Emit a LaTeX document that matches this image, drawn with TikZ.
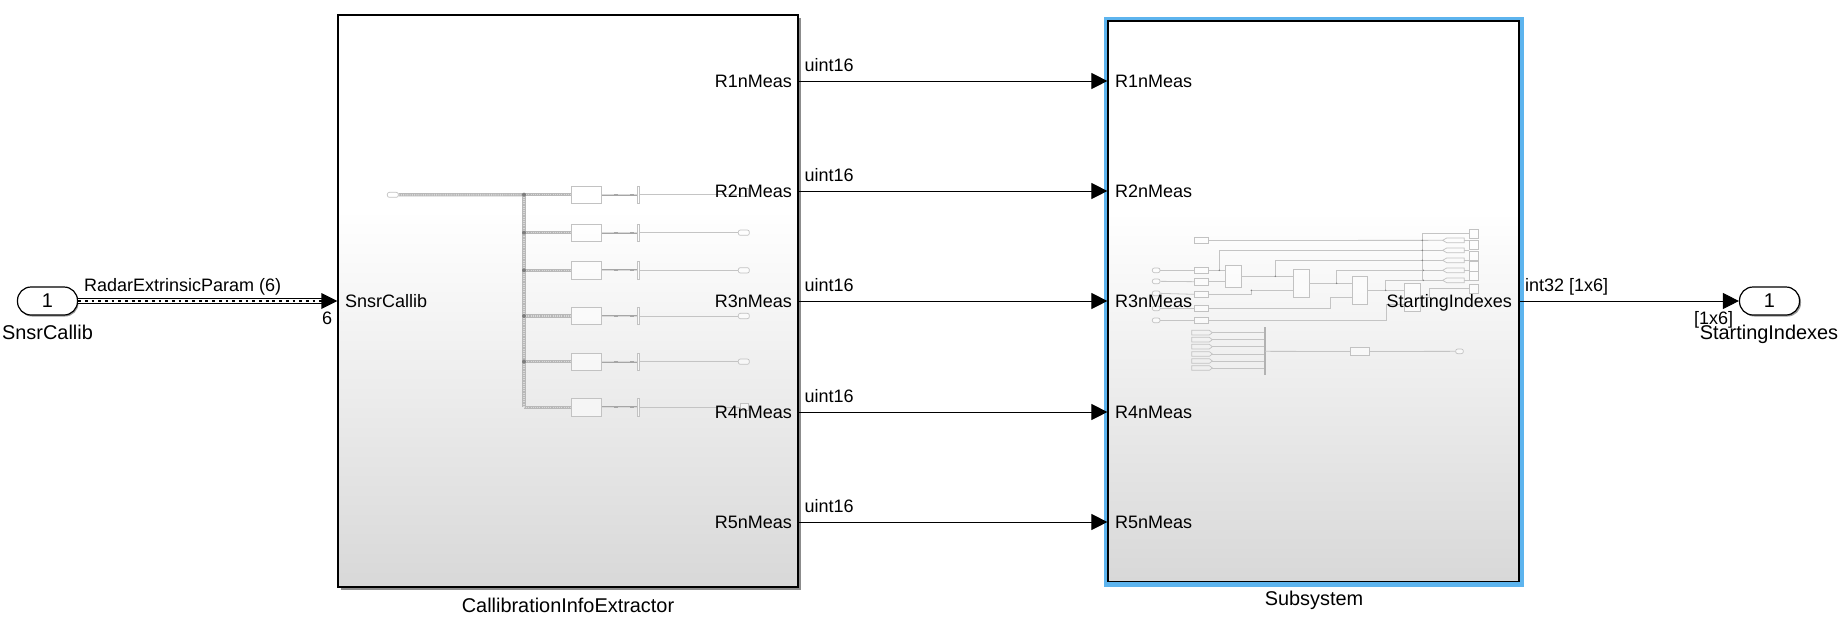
\documentclass[tikz,border=0pt]{standalone}
\usepackage{fontspec}
\setmainfont{Liberation Sans}
\usetikzlibrary{arrows.meta,fit,shapes.geometric}
\definecolor{blkbot}{HTML}{D8D8D8}
\definecolor{selblue}{HTML}{5DB4EE}
\definecolor{tline}{HTML}{C4C4C4}
\definecolor{tbox}{HTML}{C2C2C2}
\definecolor{tdark}{HTML}{7E7E7E}
\pgfdeclareverticalshading{blkshade}{100bp}{color(0bp)=(blkbot);color(25bp)=(blkbot);color(58bp)=(white);color(100bp)=(white)}
\newcommand{\tb}[6][]{\node[tbx,#1,fit={(#3,#4) (#5,#6)}] (#2) {};}
\tikzset{
  lab/.style={font=\fontsize{18}{20}\selectfont,inner sep=0pt,anchor=base west},
  labr/.style={lab,anchor=base east},
  labc/.style={font=\fontsize{19.9}{22}\selectfont,inner sep=0pt,anchor=base},
  sig/.style={line width=1pt,draw=black,-{Triangle[length=16pt,width=16pt]}},
  blockbox/.style={draw=black,line width=1.2pt,shading=blkshade,inner sep=0pt},
  shadowbox/.style={fill=black!45,draw=none,inner sep=0pt},
  portbox/.style={draw=black,line width=1.2pt,fill=white,rounded corners=13.5pt,inner sep=0pt,minimum width=60pt,minimum height=28pt,font=\fontsize{19.9}{22}\selectfont},
  tbx/.style={draw=tbox,fill=white,fill opacity=.55,line width=.7pt,inner sep=0pt},
  tl/.style={draw=tline,line width=.8pt},
  tport/.style={tbx,rounded corners=2pt},
  tdot/.style={circle,fill=tdark,inner sep=0pt,minimum size=4pt},
  tdots/.style={circle,fill=tdark,inner sep=0pt,minimum size=1.6pt},
  tbusa/.style={draw=black!28,line width=3.2pt},
  tbusb/.style={draw=white!85!black,line width=1.6pt,dash pattern=on 1pt off 1.2pt},
}
\begin{document}
\begin{tikzpicture}[x=1pt,y=-1pt]
\useasboundingbox (0,0) rectangle (1845,622);
% block shadows
\node[shadowbox,minimum width=460pt,minimum height=572pt] (shad) at (570.5,303.5) {};
% blocks
\node[blockbox,minimum width=460pt,minimum height=572pt] (cie) at (568,301) {};
\node[draw=selblue,fill=selblue,inner sep=0pt,minimum width=418.6pt,minimum height=569pt] (sel) at (1313.5,302) {};
\node[blockbox,minimum width=411pt,minimum height=560.5pt] (sub) at (1313.5,301.3) {};
% thumbnail of CallibrationInfoExtractor
\begin{scope}[shift={(370,170)},x=.33333pt,y=-.33333pt]
  \tb[tport]{ti}{52}{67}{85}{82}
  \coordinate (tj0) at (462,74);
  \coordinate (tj5) at (462,712);
  \foreach \n/\y in {0/74,1/188,2/301,3/438,4/575,5/712}{
    \tb{tg\n}{603}{\y-26}{695}{\y+26}
    \tb{tbar\n}{802}{\y-26}{808}{\y+26}
    \draw[draw=black!35,line width=2pt] (tg\n.east) -- (tbar\n.west);
    \draw[draw=black!15,line width=.7pt,dash pattern=on 12pt off 4pt] (tg\n.east) -- (tbar\n.west);
    \coordinate (tb\n) at (462,\y);
    \draw[tbusa] (tb\n) -- (tg\n.west);
    \draw[tbusb] (tb\n) -- (tg\n.west);
  }
  \draw[tbusa] (ti.east) -- (tj0);
  \draw[tbusb] (ti.east) -- (tj0);
  \draw[tbusa] (tj0) -- (tj5);
  \draw[tbusb] (tj0) -- (tj5);
  \foreach \n in {0,1,2,3,4}{\node[tdot] (td\n) at (tb\n) {};}
  \foreach \n/\y in {1/188,2/301,3/438,4/575}{
    \tb[tport]{to\n}{1105}{\y-8}{1138}{\y+8}
    \draw[tl] (tbar\n.east) -- (to\n.west);
  }
  \tb{to0}{1110}{56}{1135}{80}
  \tb{to5}{1110}{700}{1135}{722}
  \draw[tl] (tbar0.east) -- (to0.west |- tbar0.east);
  \draw[tl] (tbar5.east) -- (to5.west |- tbar5.east);
\end{scope}
% thumbnail of Subsystem
\begin{scope}[shift={(1130,210)},x=.33333pt,y=-.33333pt]
  \tb{cst}{193}{82}{236}{101}
  \foreach \n/\y/\py in {1/181/181,2/214/215,3/250/253,4/295/295,5/331/331}{
    \tb[tport]{ip\n}{67}{\y-7}{90}{\y+7}
    \tb{cv\n}{193}{\py-10}{236}{\py+10}
    \draw[tl] (ip\n.east) -- (cv\n.west);
  }
  \tb{ba}{286}{165}{334}{233}
  \tb{bb}{490}{178}{538}{262}
  \tb{bc}{666}{199}{713}{283}
  \tb{bd}{823}{220}{871}{304}
  \foreach \n/\a/\b in {1/57/85,2/91/119,3/123/151,4/155/183,5/184/212,6/222/250}{\tb{rb\n}{1018}{\a}{1046}{\b}}
  \foreach \n/\y in {1/91,2/121,3/151,4/181,5/211}{
    \coordinate (ct\n) at (946,\y);
    \draw[tbox,line width=.7pt] (938,\y) -- (950,\y-7) -- (1003,\y-7) -- (1003,\y+7) -- (950,\y+7) -- cycle;
    \draw[tl] (1003,\y) -- (rb\n.west |- 0,\y);
  }
  \coordinate (vt) at (877,70);
  \coordinate (vb) at (877,211);
  \draw[tl] (vt) -- (vb);
  \draw[tl] (vt) -- (rb1.west |- vt);
  \draw[tl] (cst.east) -- (938,91);
  \draw[tl] (cv1.east) -- (ba.west |- cv1.east);
  \draw[tl] (cv2.east) -- (ba.west |- cv2.east);
  \draw[tl] (268,181) -- (268,121) -- (938,121);
  \draw[tl] (cv3.east) -- (364,253) -- (364,241) -- (490,241);
  \draw[tl] (334,199) -- (490,199);
  \draw[tl] (436,199) -- (436,151) -- (938,151);
  \draw[tl] (538,220) -- (666,220);
  \draw[tl] (620,220) -- (620,181) -- (938,181);
  \draw[tl] (cv4.east) -- (601,295) -- (601,262) -- (666,262);
  \draw[tl] (713,241) -- (823,241);
  \draw[tl] (767,241) -- (767,211) -- (938,211);
  \draw[tl] (cv5.east) -- (770,331) -- (770,283) -- (823,283);
  \draw[tl] (871,262) -- (898,262) -- (898,236) -- (rb6.west |- 0,236);
  \foreach \n/\x/\y in {a/268/181,b/436/199,c/620/220,d/767/241,e/877/91,f/877/121,g/877/151,h/880/181,i/880/211,j/364/241}{\node[tdots] (dt\n) at (\x,\y) {};}
  % lower group
  \foreach \n/\y in {1/368,2/389,3/410,4/432,5/453,6/474}{
    \draw[tbox,line width=.7pt] (185,\y-7) -- (238,\y-7) -- (247,\y) -- (238,\y+7) -- (185,\y+7) -- cycle;
    \draw[tl] (247,\y) -- (405,\y);
  }
  \draw[draw=black!30,line width=1.4pt] (405,352) -- (405,494);
  \tb{lg}{662}{412}{718}{437}
  \tb[tport]{lo}{977}{417}{1000}{431}
  \draw[tl] (405,424) -- (lg.west);
  \draw[tl] (lg.east) -- (lo.west);
\end{scope}
% ports
\node[portbox,fill=black!40,draw=none] (ins) at (48.5,302.5) {};
\node[portbox] (in1) at (47.5,301) {1};
\node[portbox,fill=black!40,draw=none] (ous) at (1771,302.5) {};
\node[portbox] (out1) at (1769.5,301) {1};
% connectors
\coordinate (cieIn) at (cie.west |- in1);
\draw[draw=black,line width=6.6pt,shorten >=14pt] (in1.east) -- (cieIn);
\draw[draw=white,line width=4.4pt,shorten >=14pt] (in1.east) -- (cieIn);
\draw[draw=black,line width=2.4pt,dash pattern=on 2.8pt off 3.9pt,shorten >=14pt] (in1.east) -- (cieIn);
\draw[draw=none,fill=black] (cieIn) -- ++(-16,-8) -- ++(0,16) -- cycle;
\foreach \n/\y in {1/81,2/191,3/301,4/412,5/522}{
  \coordinate (a\n) at (cie.east |- 0,\y);
  \coordinate (b\n) at (sub.west |- 0,\y);
  \draw[sig] (a\n) -- (b\n);
  \node[labr] (lo\n) at (792,\y+6) {R\n nMeas};
  \node[lab] (li\n) at (1115,\y+6) {R\n nMeas};
  \node[lab] (ty\n) at (804.5,\y-10) {uint16};
}
\draw[sig] (sub.east |- out1) -- (out1.west);
% labels
\node[lab] (sig1) at (84,291) {RadarExtrinsicParam (6)};
\node[lab] (dim1) at (322,324) {6};
\node[labc] (nm1) at (47.5,339) {SnsrCallib};
\node[lab] (p1) at (345,307) {SnsrCallib};
\node[labr] (p2) at (1512,307) {StartingIndexes};
\node[lab] (sig2) at (1525,291) {int32 [1x6]};
\node[lab] (dim2) at (1694,324) {[1x6]};
\node[labc] (nm2) at (1769,339) {StartingIndexes};
\node[labc] (nm3) at (568,612) {CallibrationInfoExtractor};
\node[labc] (nm4) at (1314,605.5) {Subsystem};
\end{tikzpicture}
\end{document}
